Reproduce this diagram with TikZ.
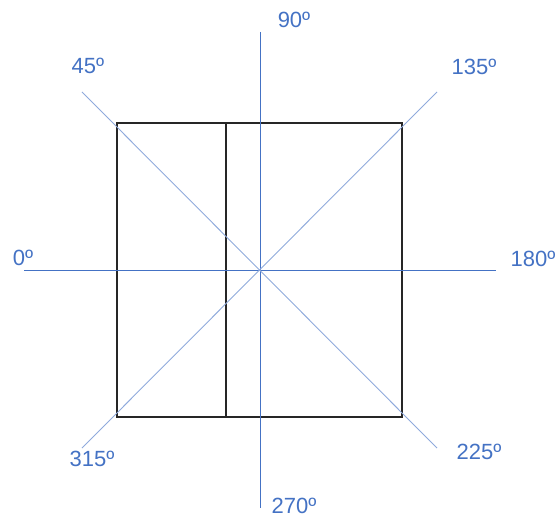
\documentclass[tikz,border=0pt]{standalone}
\usepackage{fontspec}
\setmainfont{Liberation Sans}
\definecolor{axisblue}{HTML}{4472C4}
\definecolor{diagblue}{HTML}{8FAADC}
\definecolor{labelblue}{HTML}{4472C4}
\begin{document}
\begin{tikzpicture}[x=1pt,y=-1pt,
  axis/.style={draw=axisblue,line width=0.9pt},
  diag/.style={draw=diagblue,line width=0.9pt},
  frame/.style={draw=black!85,line width=1.2pt},
  lbl/.style={text=labelblue,font=\fontsize{22}{26}\selectfont,inner sep=0pt,anchor=center}]
\useasboundingbox (0,0) rectangle (559,518);
% rectangle
\coordinate (tl) at (117,123);
\coordinate (br) at (402,417);
\coordinate (mt) at (226,123);
\coordinate (mb) at (226,417);
\draw[frame] (tl) rectangle (br);
\draw[frame] (mt) -- (mb);
% axes
\coordinate (vt) at (260,32);
\coordinate (vb) at (260,508);
\coordinate (hl) at (24,270);
\coordinate (hr) at (496,270);
\draw[axis] (vt) -- (vb);
\draw[axis] (hl) -- (hr);
% diagonals
\coordinate (d45) at (82,92);
\coordinate (d225) at (437,448);
\coordinate (d135) at (437,92);
\coordinate (d315) at (82,448);
\draw[diag] (d45) -- (d225);
\draw[diag] (d135) -- (d315);
% labels
\node[lbl] (l90) at (294,20) {90º};
\node[lbl] (l45) at (88,66) {45º};
\node[lbl] (l135) at (474,67) {135º};
\node[lbl] (l0) at (23,258) {0º};
\node[lbl] (l180) at (533,259) {180º};
\node[lbl] (l315) at (92,459) {315º};
\node[lbl] (l225) at (479,452) {225º};
\node[lbl] (l270) at (294,506) {270º};
\end{tikzpicture}
\end{document}
